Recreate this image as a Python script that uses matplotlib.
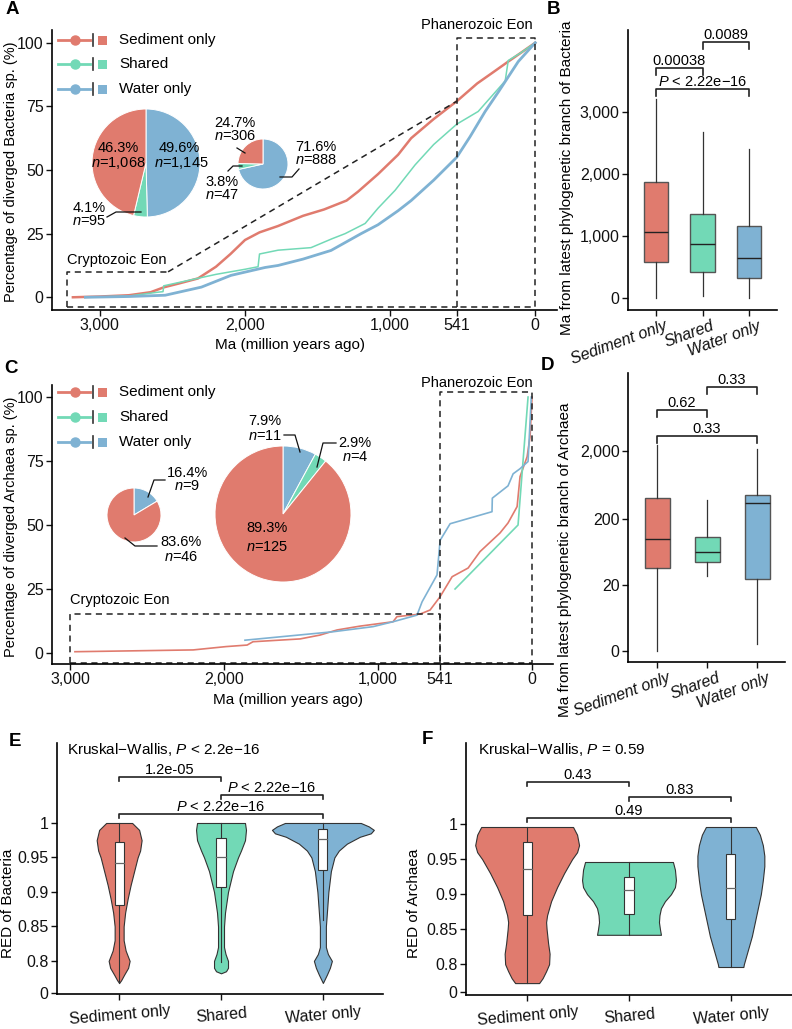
import numpy as np
import matplotlib
matplotlib.use('Agg')
import matplotlib.pyplot as plt
from matplotlib.lines import Line2D
from matplotlib.patches import Rectangle
from matplotlib.transforms import blended_transform_factory, ScaledTranslation

plt.rcParams['font.family'] = ['Liberation Sans', 'DejaVu Sans']
plt.rcParams['mathtext.fontset'] = 'custom'
plt.rcParams['mathtext.rm'] = 'Liberation Sans'
plt.rcParams['mathtext.it'] = 'Liberation Sans:italic'

W, H = 792, 1029
RED, GREEN, BLUE = '#E07B6E', '#72D9B6', '#7FB2D3'
groups = ['Sediment only', 'Shared', 'Water only']
FS = 10.5
TFS = 11.5

# ---- A: cumulative divergence of Bacteria (Ma, %) ----
bac_sed = [(3186,0),(3000,0.3),(2800,0.8),(2650,2),(2560,3.9),(2450,5.5),(2324,7.4),(2200,12),(2100,17),
           (2000,22.5),(1900,25.5),(1772,28),(1600,32),(1455,34.5),(1300,38),(1221,41.5),(1083,48.4),(945,56),
           (855,62.5),(700,70),(541,77),(400,84),(300,88),(186,92.6),(100,96),(0,100)]
bac_shr = [(3103,0),(2800,0.5),(2600,2),(2565,2.2),(2560,4.5),(2400,6.5),(2200,9),(2000,11),(1910,12),(1900,17),
           (1772,18.5),(1545,19.5),(1400,23),(1310,25),(1172,29),(1083,35),(966,42),(828,52),(700,60),(541,68),
           (393,73),(300,79),(207,85),(186,93),(100,96),(0,100)]
bac_wat = [(3100,0),(2800,0.3),(2550,0.8),(2300,4),(2097,8.6),(1862,11.7),(1772,12.5),(1600,15),(1407,18.4),
           (1200,25),(1083,28.5),(945,34),(855,38),(700,46),(541,55),(450,63),(345,73),(250,81),(117,92.6),(0,100)]
pie_a_big = [49.6, 4.1, 46.3]      # water, shared, sediment
pie_a_small = [71.6, 3.8, 24.7]

# ---- B: branch age of Bacteria (box stats) ----
b_q1 = [580, 420, 320]
b_med = [1065, 870, 645]
b_q3 = [1870, 1355, 1160]
b_lo = [0, 30, 0]
b_hi = [3210, 2677, 2400]

# ---- C: cumulative divergence of Archaea ----
arc_sed = [(2968,0.5),(2200,1.2),(1987,2.5),(1850,3.1),(1812,4.4),(1506,5.5),(1377,7),(1266,9),(1117,10.5),
           (903,12.2),(877,14.2),(727,15.2),(662,16.8),(597,22),(519,29.8),(415,33.2),(338,39.6),(208,46.9),
           (156,50.8),(97,57.2),(78,68.9),(32,76.7),(13,84.5),(0,100)]
arc_shr = [(500,25),(91,50),(26,100)]
arc_wat = [(1864,5),(1292,8.3),(1032,10.3),(903,12.2),(747,14.8),(714,20),(617,30.5),(597,44),(532,50.5),
           (260,55.2),(258,60.5),(156,65.3),(123,70),(78,72),(26,74.8),(5,100)]
pie_c_small = [16.4, 0, 83.6]
pie_c_big = [7.9, 2.9, 89.3]

# ---- D: branch age of Archaea ----
d_q1 = [37, 47, 25]
d_med = [102, 65, 346]
d_q3 = [409, 111, 457]
d_lo = [0, 28, 0.7]
d_hi = [2440, 386, 2135]

# ---- E / F: RED violins (y level, half width in px) ----
e_y = [[0.768,0.772,0.78,0.79,0.80,0.815,0.83,0.85,0.87,0.89,0.91,0.93,0.95,0.96,0.975,0.99,1.0],
       [0.782,0.785,0.79,0.80,0.81,0.82,0.85,0.87,0.90,0.93,0.95,0.96,0.975,0.99,1.0],
       [0.768,0.78,0.79,0.80,0.81,0.82,0.85,0.87,0.90,0.93,0.95,0.96,0.97,0.98,0.985,0.99,0.995,1.0]]
e_w = [[0,2,5,9,10.5,6.5,4.5,4.5,6,8.5,11.5,15,18.5,21,22.5,20,13],
       [0,5,7,7,4.5,3,3,4,7,12,17,20,24,25,24],
       [0,4,7,9,5,3,3,4,5.5,8,11.5,16,24,37,48,51,46,38]]
e_q1 = [0.881, 0.907, 0.932]; e_med = [0.942, 0.951, 0.977]; e_q3 = [0.972, 0.978, 0.992]
e_lo = [0.768, 0.798, 0.86]; e_hi = [1.0, 1.0, 1.0]

f_y = [[0.773,0.78,0.79,0.80,0.815,0.83,0.85,0.86,0.87,0.89,0.91,0.93,0.95,0.96,0.97,0.985,0.996],
       [0.842,0.85,0.86,0.87,0.88,0.89,0.90,0.91,0.92,0.935,0.946],
       [0.796,0.80,0.82,0.84,0.86,0.88,0.90,0.92,0.94,0.955,0.97,0.985,0.996]]
f_w = [[12,15.5,19,22,22.5,21,19.5,19,20,24,30,37,45,50,52,50,46],
       [32,31,30,30.5,32,36,42,46,47,46,44],
       [12.5,13,17,21,24,27,30,32,33.5,33.5,32,29,25]]
f_q1 = [0.870, 0.872, 0.864]; f_med = [0.936, 0.906, 0.909]; f_q3 = [0.974, 0.924, 0.957]
f_lo = [0.773, 0.842, 0.796]; f_hi = [0.996, 0.946, 0.996]

fig = plt.figure(figsize=(W/100, H/100), dpi=100)

def axes_px(l, t, r, b):
    return fig.add_axes([l/W, 1-b/H, (r-l)/W, (b-t)/H])

def ftext(x, y, s, **kw):
    kw.setdefault('fontsize', FS)
    fig.text(x/W, 1-y/H, s, **kw)

def fline(xs, ys, **kw):
    fig.add_artist(Line2D([x/W for x in xs], [1-y/H for y in ys], **kw))

def style(ax):
    for s in ['top', 'right']:
        ax.spines[s].set_visible(False)
    for s in ['left', 'bottom']:
        ax.spines[s].set_linewidth(1.2)
    ax.tick_params(length=4, width=1, labelsize=TFS, colors='#111', pad=2)

def pie(cx, cy, r, vals):
    pa = axes_px(cx-r, cy-r, cx+r, cy+r)
    cols = [BLUE, GREEN, RED]
    keep = [(a, c) for a, c in zip(vals, cols) if a > 0]
    pa.pie([a for a, _ in keep], colors=[c for _, c in keep], startangle=90, counterclock=False,
           wedgeprops=dict(edgecolor='white', linewidth=0.7))
    pa.set_xlim(-1, 1); pa.set_ylim(-1, 1); pa.set_aspect('equal'); pa.axis('off')

def legend(ys):
    for y, c, lab in zip(ys, [RED, GREEN, BLUE], groups):
        fline([58, 90], [y, y], color=c, lw=2)
        fline([75], [y], color=c, marker='o', ms=6.5, lw=0)
        fline([93, 93], [y-6, y+6], color='#333', lw=1.2)
        fig.add_artist(Rectangle((98/W, 1-(y+4.5)/H), 9/W, 9/H, facecolor=c, edgecolor='none'))
        ftext(119, y, lab, ha='left', va='center', fontsize=11)

def dashed(ax, xs, ys):
    ax.plot(xs, ys, color='#222', lw=1.1, dashes=(4, 3), clip_on=False)

def bracket(ax, x1, x2, y, dy, label, trans):
    ax.plot([x1, x1, x2, x2], [y-dy, y, y, y-dy], color='#222', lw=1.2, transform=trans, clip_on=False)
    ax.text((x1+x2)/2, y, label, ha='center', va='bottom', transform=trans, fontsize=FS)

# ================= Panel A =================
ax = axes_px(52, 30, 557, 310)
style(ax)
for d, c, lw in [(bac_sed, RED, 1.8), (bac_shr, GREEN, 1.1), (bac_wat, BLUE, 2.0)]:
    d = np.array(d)
    ax.plot(d[:, 0], d[:, 1], color=c, lw=lw)
ax.set_xlim(3330, -150); ax.set_ylim(-5, 105)
ax.set_xticks([3000, 2000, 1000, 541, 0], ['3,000', '2,000', '1,000', '541', '0'])
ax.set_yticks([0, 25, 50, 75, 100])
dashed(ax, [3230, 3230, 2530], [-4, 10, 10])
dashed(ax, [2530, 541], [10, 77])
dashed(ax, [3230, 541], [-4, -4])
dashed(ax, [541, 541, 0, 0, 541], [-4, 102, 102, -4, -4])
ftext(67, 260, 'Cryptozoic Eon', ha='left', va='center')
ftext(477, 25, 'Phanerozoic Eon', ha='center', va='center')
ftext(11, 172, 'Percentage of diverged Bacteria sp. (%)', rotation=90, ha='center', va='center', fontsize=10.5)
ftext(290, 345, 'Ma (million years ago)', ha='center', va='center', fontsize=11)
legend([40, 64, 89])
pie(146, 163, 54, pie_a_big)
pie(263, 164, 25, pie_a_small)
ftext(118, 148, '46.3%', ha='center', va='center')
ftext(118, 163, '$n$=1,068', ha='center', va='center')
ftext(179, 148, '49.6%', ha='center', va='center')
ftext(181, 163, '$n$=1,145', ha='center', va='center')
ftext(89, 208, '4.1%', ha='center', va='center')
ftext(89, 221, '$n$=95', ha='center', va='center')
fline([141, 116, 107], [212, 212, 217], color='#111', lw=0.9)
ftext(235, 123, '24.7%', ha='center', va='center')
ftext(235, 136, '$n$=306', ha='center', va='center')
fline([237, 245], [148, 153], color='#111', lw=0.9)
ftext(222, 182, '3.8%', ha='center', va='center')
ftext(222, 195, '$n$=47', ha='center', va='center')
fline([228, 233, 242], [171, 166, 166], color='#111', lw=0.9)
ftext(316, 147, '71.6%', ha='center', va='center')
ftext(316, 160, '$n$=888', ha='center', va='center')
fline([280, 292, 299], [177, 177, 169], color='#111', lw=0.9)

# ================= Panel B =================
ax = axes_px(628, 30, 777, 310)
style(ax)
stats = [dict(med=m, q1=a, q3=b, whislo=lo, whishi=hi, fliers=[]) for m, a, b, lo, hi in zip(b_med, b_q1, b_q3, b_lo, b_hi)]
bp = ax.bxp(stats, positions=[1, 2, 3], widths=0.52, patch_artist=True, showfliers=False, showcaps=False,
            boxprops=dict(edgecolor='#555', lw=1), medianprops=dict(color='#222', lw=1),
            whiskerprops=dict(color='#333', lw=0.9))
for p, c in zip(bp['boxes'], [RED, GREEN, BLUE]):
    p.set_facecolor(c)
ax.set_xlim(0.4, 3.6); ax.set_ylim(-194, 4323)
ax.set_yticks([0, 1000, 2000, 3000], ['0', '1,000', '2,000', '3,000'])
ax.set_xticks([1, 2, 3])
ax.set_xticklabels(groups, rotation=20, ha='right', rotation_mode='anchor', style='italic', fontsize=TFS)
for t in ax.get_xticklabels():
    t.set_transform(t.get_transform() + ScaledTranslation(8/100, 0, fig.dpi_scale_trans))
tr = blended_transform_factory(ax.transData, ax.transAxes)
bracket(ax, 2, 3, 0.957, 0.025, '0.0089', tr)
bracket(ax, 1, 2, 0.864, 0.025, '0.00038', tr)
bracket(ax, 1, 3, 0.789, 0.025, '$P$ < 2.22e\u221216', tr)
ftext(567, 178, 'Ma from latest phylogenetic branch of Bacteria', rotation=90, ha='center', va='center', fontsize=11)

# ================= Panel C =================
ax = axes_px(52, 385, 553, 664)
style(ax)
for d, c, lw in [(arc_sed, RED, 1.2), (arc_shr, GREEN, 1.2), (arc_wat, BLUE, 1.2)]:
    d = np.array(d)
    ax.plot(d[:, 0], d[:, 1], color=c, lw=lw)
ax.set_xlim(3117, -136); ax.set_ylim(-4.3, 104.7)
bound_c = 597   # position of the 541 Ma break as drawn in panel C
ax.set_xticks([3000, 2000, 1000, bound_c, 0], ['3,000', '2,000', '1,000', '541', '0'])
ax.set_yticks([0, 25, 50, 75, 100])
dashed(ax, [3000, 3000, bound_c, bound_c], [-4, 15.2, 15.2, -4])
dashed(ax, [3000, bound_c], [-4, -4])
dashed(ax, [bound_c, bound_c, 0, 0, bound_c], [-4, 102, 102, -4, -4])
ftext(70, 600, 'Cryptozoic Eon', ha='left', va='center')
ftext(477, 383, 'Phanerozoic Eon', ha='center', va='center')
ftext(11, 527, 'Percentage of diverged Archaea sp. (%)', rotation=90, ha='center', va='center', fontsize=10.5)
ftext(288, 700, 'Ma (million years ago)', ha='center', va='center', fontsize=11)
legend([392, 417, 442])
pie(134, 515, 27, pie_c_small)
pie(283, 514, 68, pie_c_big)
ftext(187, 473, '16.4%', ha='center', va='center')
ftext(187, 486, '$n$=9', ha='center', va='center')
fline([148, 154, 165], [497, 480, 480], color='#111', lw=0.9)
ftext(181, 542, '83.6%', ha='center', va='center')
ftext(181, 557, '$n$=46', ha='center', va='center')
fline([125, 135, 157], [538, 546, 546], color='#111', lw=0.9)
ftext(265, 421, '7.9%', ha='center', va='center')
ftext(265, 436, '$n$=11', ha='center', va='center')
fline([284, 295, 300], [435, 435, 452], color='#111', lw=0.9)
ftext(355, 443, '2.9%', ha='center', va='center')
ftext(355, 457, '$n$=4', ha='center', va='center')
fline([317, 323, 336], [467, 443, 443], color='#111', lw=0.9)
ftext(267, 528, '89.3%', ha='center', va='center')
ftext(267, 547, '$n$=125', ha='center', va='center')

# ================= Panel D =================
ax = axes_px(628, 373, 785, 662)
style(ax)
ax.set_yscale('function', functions=(lambda y: np.log10(np.maximum(np.asarray(y, float) + 2.5, 1e-6)),
                                      lambda t: 10**np.asarray(t, float) - 2.5))
stats = [dict(med=m, q1=a, q3=b, whislo=lo, whishi=hi, fliers=[]) for m, a, b, lo, hi in zip(d_med, d_q1, d_q3, d_lo, d_hi)]
bp = ax.bxp(stats, positions=[1, 2, 3], widths=0.5, patch_artist=True, showfliers=False, showcaps=False,
            boxprops=dict(edgecolor='#555', lw=1), medianprops=dict(color='#222', lw=1),
            whiskerprops=dict(color='#333', lw=0.9))
for p, c in zip(bp['boxes'], [RED, GREEN, BLUE]):
    p.set_facecolor(c)
ax.set_xlim(0.42, 3.56); ax.set_ylim(-0.77, 27000)
ax.set_yticks([0, 20, 200, 2000], ['0', '20', '200', '2,000'])
ax.yaxis.set_minor_locator(matplotlib.ticker.NullLocator())
ax.set_xticks([1, 2, 3])
ax.set_xticklabels(groups, rotation=20, ha='right', rotation_mode='anchor', style='italic', fontsize=TFS)
for t in ax.get_xticklabels():
    t.set_transform(t.get_transform() + ScaledTranslation(10/100, 0, fig.dpi_scale_trans))
tr = blended_transform_factory(ax.transData, ax.transAxes)
bracket(ax, 2, 3, 0.952, 0.025, '0.33', tr)
bracket(ax, 1, 2, 0.872, 0.025, '0.62', tr)
bracket(ax, 1, 3, 0.782, 0.025, '0.33', tr)
ftext(565, 560, 'Ma from latest phylogenetic branch of Archaea', rotation=90, ha='center', va='center', fontsize=11)

# ================= Panels E / F =================
def violin_panel(box, ys, ws, q1, med, q3, lo, hi, ylim, zero_at, brk, kw_text, ylabel, ylab_x, xlim):
    ax = axes_px(*box)
    style(ax)
    unit = 102.0
    for i, c in enumerate([RED, GREEN, BLUE]):
        x0 = i + 1
        y = np.array(ys[i]); w = np.array(ws[i]) / unit
        ax.fill_betweenx(y, x0 - w, x0 + w, facecolor=c, edgecolor='#333', lw=0.8, zorder=2)
        ax.plot([x0, x0], [lo[i], hi[i]], color='#333', lw=0.8, zorder=3)
        ax.add_patch(Rectangle((x0 - 0.045, q1[i]), 0.09, q3[i] - q1[i], facecolor='white',
                               edgecolor='#333', lw=0.8, zorder=4))
        ax.plot([x0 - 0.045, x0 + 0.045], [med[i], med[i]], color='#666', lw=0.9, zorder=5)
    ax.set_xlim(*xlim); ax.set_ylim(*ylim)
    ax.set_yticks([zero_at, 0.8, 0.85, 0.9, 0.95, 1], ['0', '0.8', '0.85', '0.9', '0.95', '1'])
    ax.set_xticks([1, 2, 3])
    ax.set_xticklabels(groups, rotation=5, ha='center', rotation_mode='anchor', fontsize=TFS)
    ax.tick_params(axis='x', pad=6)
    for (x1, x2, y, lab) in brk:
        bracket(ax, x1, x2, y, 0.006, lab, ax.transData)
    ftext(*kw_text[:2], kw_text[2], ha='left', va='center', fontsize=11)
    ftext(ylab_x, 903, ylabel, rotation=90, ha='center', va='center', fontsize=11)
    return ax

violin_panel((57, 743, 383, 994), e_y, e_w, e_q1, e_med, e_q3, e_lo, e_hi, (0.752, 1.116), 0.7535,
             [(1, 2, 1.067, '1.2e-05'), (2, 3, 1.041, '$P$ < 2.22e\u221216'), (1, 3, 1.013, '$P$ < 2.22e\u221216')],
             (67, 749, 'Kruskal\u2212Wallis, $P$ < 2.2e\u221216'), 'RED of Bacteria', 8, (0.39, 3.59))
violin_panel((466, 743, 792, 995), f_y, f_w, f_q1, f_med, f_q3, f_lo, f_hi, (0.756, 1.116), 0.76,
             [(1, 2, 1.060, '0.43'), (2, 3, 1.039, '0.83'), (1, 3, 1.009, '0.49')],
             (478, 750, 'Kruskal\u2212Wallis, $P$ = 0.59'), 'RED of Archaea', 414, (0.40, 3.60))

# panel letters
for lab, x, y in [('A', 12, 9), ('B', 553, 9), ('C', 11, 368), ('D', 548, 366), ('E', 15, 741), ('F', 427, 740)]:
    ftext(x, y, lab, ha='center', va='center', fontsize=13.5, fontweight='bold')

fig.savefig('out.png', dpi=100)
